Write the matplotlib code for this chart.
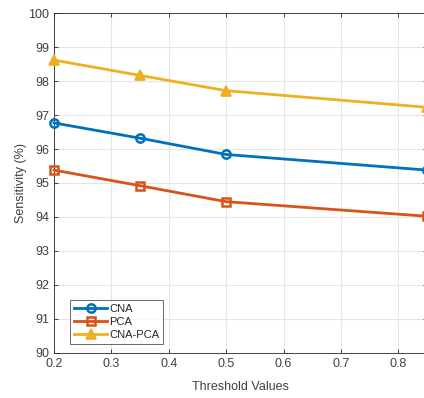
import matplotlib
matplotlib.use("Agg")
import matplotlib.pyplot as plt

thresholds = [0.2, 0.35, 0.5, 0.85]
cna = [96.77, 96.32, 95.84, 95.38]
pca = [95.38, 94.92, 94.45, 94.02]
cna_pca = [98.62, 98.17, 97.72, 97.23]
xticks = [0.2, 0.3, 0.4, 0.5, 0.6, 0.7, 0.8]
yticks = list(range(90, 101))

plt.rcParams['font.family'] = ['Liberation Sans', 'DejaVu Sans']

W, H = 424, 398
fig = plt.figure(figsize=(W / 100, H / 100), dpi=100)
left, right, top, bottom = 54, 427, 13.3, 352.7
ax = fig.add_axes([left / W, 1 - bottom / H, (right - left) / W, (bottom - top) / H])

ax.plot(thresholds, cna, color='#0072BD', lw=2, marker='o', ms=6,
        mfc='none', mew=1.8, label='CNA', clip_on=False, zorder=3)
ax.plot(thresholds, pca, color='#D95319', lw=2, marker='s', ms=6,
        mfc='none', mew=1.8, label='PCA', clip_on=False, zorder=3)
ax.plot(thresholds, cna_pca, color='#EDB120', lw=2, marker='^', ms=7,
        mfc='#EDB120', mew=1.2, label='CNA-PCA', clip_on=False, zorder=3)

txt = '#404040'
ax.set_xlim(0.2, 0.85)
ax.set_ylim(90, 100)
ax.set_xticks(xticks)
ax.set_yticks(yticks)
ax.set_xticklabels([f"{v:g}" for v in xticks])
ax.grid(True, color='#e6e6e6', lw=0.8)
ax.set_axisbelow(True)
ax.tick_params(direction='in', top=True, right=True, labelsize=9,
               colors='#262626', labelcolor=txt, length=3, width=0.6)
for s in ax.spines.values():
    s.set_color('#262626')
    s.set_linewidth(0.6)
ax.set_xlabel('Threshold Values', fontsize=9, color=txt, labelpad=8)
ax.set_ylabel('Sensitivity (%)', fontsize=9, color=txt, labelpad=1)

leg = ax.legend(loc='lower left', bbox_to_anchor=(16 / 373, 9 / 339.4),
                fontsize=8, handlelength=3, frameon=True, fancybox=False,
                edgecolor='#262626', borderpad=0.35, labelspacing=0.25,
                handletextpad=0.2, borderaxespad=0)
leg.get_frame().set_linewidth(0.6)
for t in leg.get_texts():
    t.set_color('#262626')

fig.savefig('out.png', dpi=100)
